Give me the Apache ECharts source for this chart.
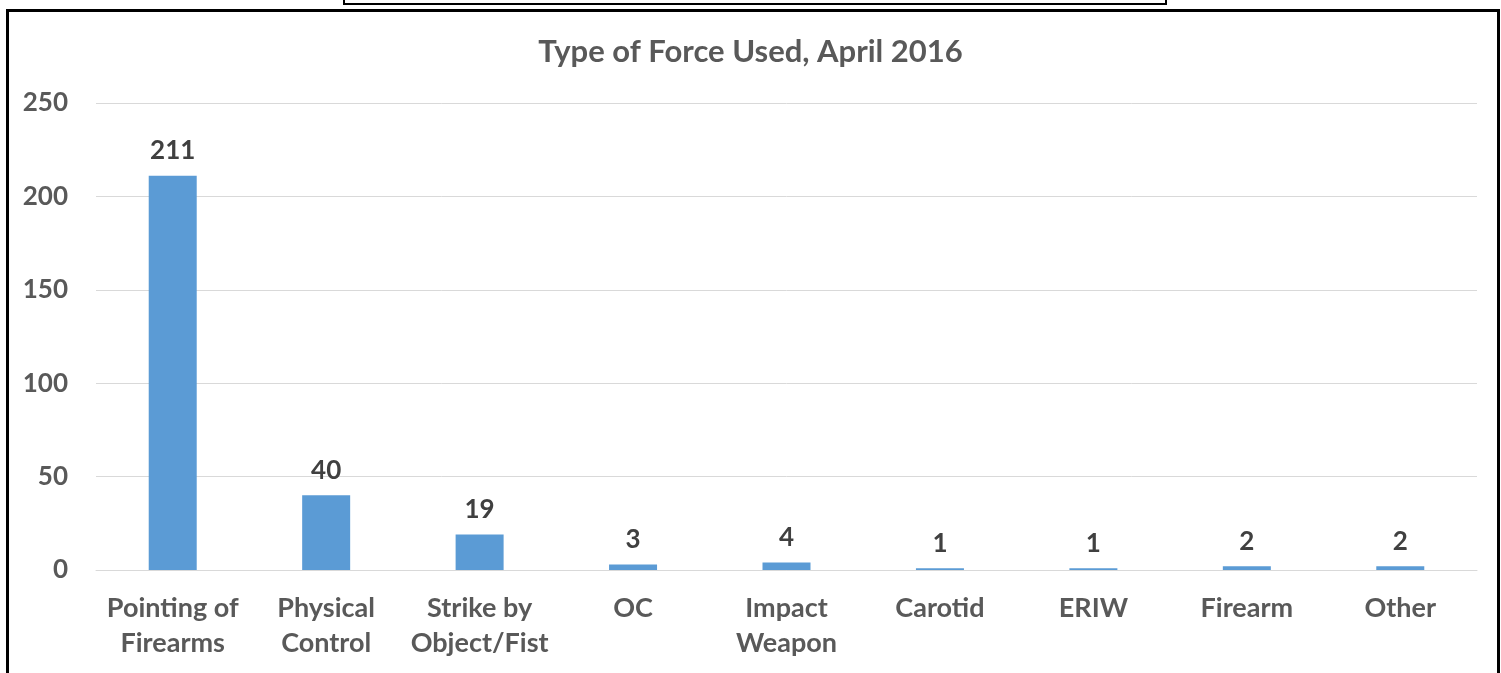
<!DOCTYPE html>
<html lang="en">
<head>
    <meta charset="UTF-8">
    <title>Type of Force Used, April 2016</title>
    <script src="https://cdn.jsdelivr.net/npm/echarts@6/dist/echarts.min.js"></script>
    <style>
        html, body { margin: 0; padding: 0; background: #fff; }
        #chart { width: 1501px; height: 673px; }
    </style>
</head>
<body>
    <div id="chart"></div>
    <script>
        var categories = ['Pointing of\nFirearms', 'Physical\nControl', 'Strike by\nObject/Fist', 'OC', 'Impact\nWeapon', 'Carotid', 'ERIW', 'Firearm', 'Other'];
        var counts = [211, 40, 19, 3, 4, 1, 1, 2, 2];
        var yTicks = [0, 50, 100, 150, 200, 250];

        var font = 'Lato';
        var myChart = echarts.init(document.getElementById('chart'));

        var option = {
            backgroundColor: '#fff',
            animation: false,
            title: {
                text: 'Type of Force Used, April 2016',
                left: 'center',
                top: 31,
                textStyle: { fontFamily: font, fontSize: 31, fontWeight: 'bold', color: '#595959' }
            },
            grid: { left: 96, right: 24, top: 103, bottom: 103 },
            xAxis: {
                type: 'category',
                data: categories,
                axisLine: { show: true, lineStyle: { color: '#d9d9d9', width: 1 } },
                axisTick: { show: false },
                axisLabel: {
                    interval: 0,
                    margin: 21,
                    fontFamily: font,
                    fontSize: 27,
                    fontWeight: 'bold',
                    color: '#595959',
                    lineHeight: 35
                }
            },
            yAxis: {
                type: 'value',
                min: yTicks[0],
                max: yTicks[yTicks.length - 1],
                interval: 50,
                axisLine: { show: false },
                axisTick: { show: false },
                splitLine: { lineStyle: { color: '#d9d9d9', width: 1 } },
                axisLabel: {
                    margin: 28,
                    fontFamily: font,
                    fontSize: 26,
                    fontWeight: 'bold',
                    color: '#595959'
                }
            },
            series: [{
                type: 'bar',
                data: counts,
                barWidth: 48,
                itemStyle: { color: '#5b9bd5' },
                label: {
                    show: true,
                    position: 'top',
                    distance: 12,
                    fontFamily: font,
                    fontSize: 26,
                    fontWeight: 'bold',
                    color: '#404040'
                }
            }],
            graphic: [
                // outer frame, open at the bottom
                { type: 'polyline', silent: true, shape: { points: [[7.5, 673], [7.5, 10.5], [1498.5, 10.5], [1498.5, 673]] }, style: { stroke: '#000', lineWidth: 3, fill: null } },
                // box peeking in at the top
                { type: 'polyline', silent: true, shape: { points: [[344, 0], [344, 4], [1166, 4], [1166, 0]] }, style: { stroke: '#000', lineWidth: 2, fill: null } }
            ]
        };

        myChart.setOption(option);
    </script>
</body>
</html>
